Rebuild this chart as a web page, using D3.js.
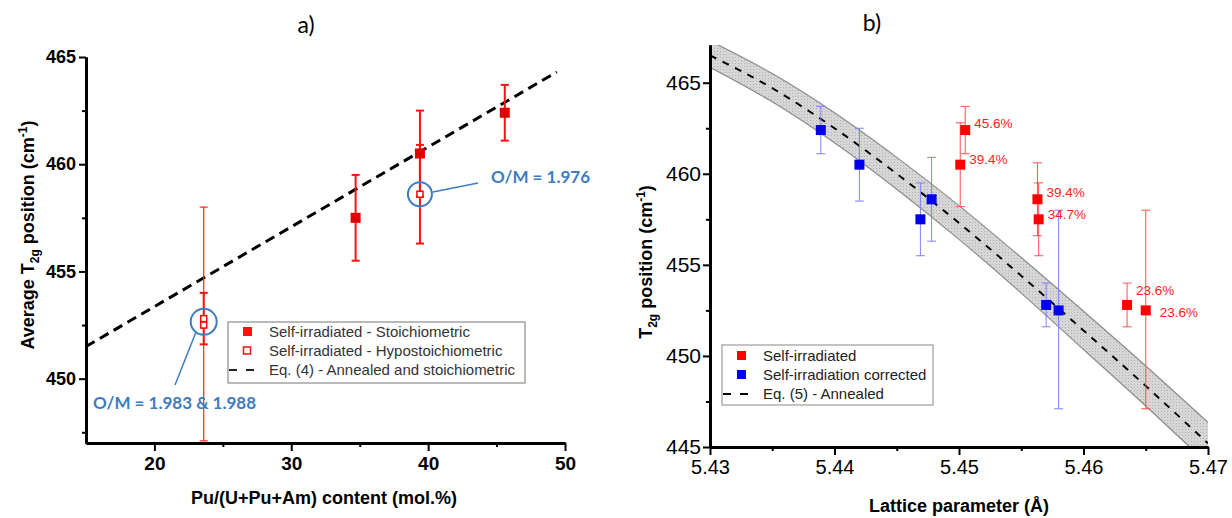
<!DOCTYPE html>
<html>
<head>
<meta charset="utf-8">
<script src="https://cdn.jsdelivr.net/npm/d3@7"></script>
<style>
  body { margin: 0; background: #fff; }
  svg { display: block; }
  .c-axis path, .c-axis line { stroke: #000; }
  .c-axis text { fill: #000; }
</style>
</head>
<body>
<div id="chart"></div>
<script>
// ---- panel a) data ----
const stoichContent = [34.7, 39.4, 45.6];
const stoichT2g = [457.5, 460.5, 462.4];
const stoichLow = [455.5, 458.5, 461.1];
const stoichHigh = [459.5, 462.5, 463.7];

const hypoContent = [23.6, 23.6, 39.4];
const hypoT2g = [452.8, 452.5, 458.6];
const hypoLow = [451.6, 447.1, 456.3];
const hypoHigh = [454.0, 458.0, 460.9];

const eq4Content = [15, 49.4];
const eq4T2g = [451.5, 464.3];

const aXTicks = [20, 30, 40, 50];
const aXMinor = [25, 35, 45];
const aYTicks = [450, 455, 460, 465];
const aYMinor = [447.5, 452.5, 457.5, 462.5];

// ---- panel b) data ----
const redLattice = [5.4505, 5.4501, 5.4563, 5.4564, 5.4635, 5.4650];
const redT2g = [462.4, 460.5, 458.6, 457.5, 452.8, 452.5];
const redLow = [461.1, 458.2, 456.6, 455.5, 451.6, 447.1];
const redHigh = [463.7, 462.8, 460.6, 459.5, 454.0, 458.0];
const redLabels = ['45.6%', '39.4%', '39.4%', '34.7%', '23.6%', '23.6%'];

const blueLattice = [5.4389, 5.4420, 5.4469, 5.4478, 5.4570, 5.4580];
const blueT2g = [462.4, 460.5, 457.5, 458.6, 452.8, 452.5];
const blueLow = [461.1, 458.5, 455.5, 456.3, 451.6, 447.1];
const blueHigh = [463.7, 462.5, 459.5, 460.9, 454.0, 458.0];

const eq5Lattice = [5.43, 5.435, 5.44, 5.445, 5.45, 5.455, 5.46, 5.465, 5.47];
const eq5T2g = [466.5, 464.7, 462.5, 460.0, 457.3, 454.4, 451.4, 448.35, 445.2];
const eq5Upper = [467.3, 465.5, 463.35, 460.9, 458.25, 455.4, 452.45, 449.45, 446.35];
const eq5Lower = [465.85, 463.95, 461.7, 459.15, 456.4, 453.45, 450.35, 447.25, 444.05];

const bXTicks = [5.43, 5.44, 5.45, 5.46, 5.47];
const bXMinor = [5.435, 5.445, 5.455, 5.465];
const bYTicks = [445, 450, 455, 460, 465];
const bYMinor = [447.5, 452.5, 457.5, 462.5];

// label offsets (px) for the red percentage labels
const redLabelOffsets = [[9, -7], [9, -5], [9, -7], [9, -5], [9, -15], [14, 2]];

const ARIAL = '"Liberation Sans", Arial, sans-serif';
const CALIBRI = 'Lato, "Open Sans", sans-serif';
const OM_BLUE = '#3d7cc2';

const svg = d3.select('#chart').append('svg')
  .attr('width', 1232)
  .attr('height', 518);
svg.append('rect').attr('width', 1232).attr('height', 518).attr('fill', '#fff');

function zip (xs, ys, lo, hi) {
  return xs.map((x, i) => ({x: x, y: ys[i], lo: lo ? lo[i] : null, hi: hi ? hi[i] : null, i: i}));
}

function errorBars (g, data, x, y, color, width, cap) {
  const e = g.append('g').attr('stroke', color).attr('stroke-width', width);
  data.forEach((d) => {
    e.append('line').attr('x1', x(d.x)).attr('x2', x(d.x)).attr('y1', y(d.lo)).attr('y2', y(d.hi));
    e.append('line').attr('x1', x(d.x) - cap / 2).attr('x2', x(d.x) + cap / 2).attr('y1', y(d.lo)).attr('y2', y(d.lo));
    e.append('line').attr('x1', x(d.x) - cap / 2).attr('x2', x(d.x) + cap / 2).attr('y1', y(d.hi)).attr('y2', y(d.hi));
  });
}

function squares (g, data, x, y, size, fill, stroke) {
  g.append('g').selectAll('rect').data(data).enter().append('rect')
    .attr('x', (d) => x(d.x) - size / 2)
    .attr('y', (d) => y(d.y) - size / 2)
    .attr('width', size)
    .attr('height', size)
    .attr('fill', fill)
    .attr('stroke', stroke || 'none')
    .attr('stroke-width', stroke ? 1.5 : 0);
}

function drawAxis (g, axis, transform, font, size, weight, lineWidth) {
  const a = g.append('g')
    .attr('class', 'c-axis')
    .attr('transform', transform)
    .call(axis);
  a.attr('font-family', font);
  a.selectAll('path').attr('stroke-width', lineWidth);
  a.selectAll('line').attr('stroke-width', 2);
  a.selectAll('text')
    .attr('font-family', font)
    .attr('font-size', size)
    .attr('font-weight', weight);
  return a;
}

// ================= panel a) =================
function drawPanelA () {
  const x = d3.scaleLinear().domain([15, 50]).range([86, 565]);
  const y = d3.scaleLinear().domain([447, 465]).range([443, 57]);
  const g = svg.append('g');

  g.append('text').attr('x', 306).attr('y', 33).attr('text-anchor', 'middle')
    .attr('font-family', CALIBRI).attr('font-size', 23).text('a)');

  drawAxis(g, d3.axisLeft(y).tickValues(aYMinor).tickSize(4).tickFormat('').tickSizeOuter(0),
    'translate(' + x(15) + ',0)', ARIAL, 18, 'bold', 3);
  drawAxis(g, d3.axisLeft(y).tickValues(aYTicks).tickSize(7).tickPadding(3).tickSizeOuter(0),
    'translate(' + x(15) + ',0)', ARIAL, 18, 'bold', 3);
  drawAxis(g, d3.axisBottom(x).tickValues(aXMinor).tickSize(4).tickFormat('').tickSizeOuter(0),
    'translate(0,' + y(447) + ')', ARIAL, 19, 'bold', 3);
  drawAxis(g, d3.axisBottom(x).tickValues(aXTicks).tickSize(8).tickPadding(6).tickSizeOuter(0),
    'translate(0,' + y(447) + ')', ARIAL, 19, 'bold', 3);

  const yl = g.append('text')
    .attr('transform', 'translate(34,' + 235 + ') rotate(-90)')
    .attr('text-anchor', 'middle')
    .attr('font-family', ARIAL).attr('font-size', 18).attr('font-weight', 'bold');
  yl.append('tspan').text('Average T');
  yl.append('tspan').attr('font-size', 12).attr('dy', 5).text('2g');
  yl.append('tspan').attr('dy', -5).text(' position (cm');
  yl.append('tspan').attr('font-size', 12).attr('dy', -7).text('-1');
  yl.append('tspan').attr('dy', 7).text(')');

  g.append('text').attr('x', 324).attr('y', 504).attr('text-anchor', 'middle')
    .attr('font-family', ARIAL).attr('font-size', 18).attr('font-weight', 'bold')
    .text('Pu/(U+Pu+Am) content (mol.%)');

  // Eq. (4) line
  const line = d3.line().x((d) => x(d.x)).y((d) => y(d.y));
  g.append('path')
    .attr('d', line(zip(eq4Content, eq4T2g)))
    .attr('fill', 'none').attr('stroke', '#000').attr('stroke-width', 3)
    .attr('stroke-dasharray', '10,6');

  const stoich = zip(stoichContent, stoichT2g, stoichLow, stoichHigh);
  const hypo = zip(hypoContent, hypoT2g, hypoLow, hypoHigh);
  errorBars(g, hypo.filter((d) => d.i === 1), x, y, '#ff2020', 1.2, 8);
  errorBars(g, hypo.filter((d) => d.i !== 1), x, y, '#ff1010', 2, 8);
  errorBars(g, stoich, x, y, '#ff1010', 2, 8);
  squares(g, stoich, x, y, 10, '#e00000');
  squares(g, hypo, x, y, 6, '#fff', '#ff0000');

  // O/M annotations
  const ann = g.append('g').attr('stroke', OM_BLUE).attr('fill', 'none').attr('stroke-width', 2);
  ann.append('circle').attr('cx', x(23.6)).attr('cy', y(452.65)).attr('r', 13);
  ann.append('circle').attr('cx', x(39.4)).attr('cy', y(458.6)).attr('r', 12);
  ann.append('line').attr('x1', 175).attr('y1', 385).attr('x2', 196).attr('y2', 332).attr('stroke-width', 1.5);
  ann.append('line').attr('x1', 433).attr('y1', 192).attr('x2', 478).attr('y2', 183).attr('stroke-width', 1.5);
  g.append('text').attr('x', 93).attr('y', 409)
    .attr('font-family', CALIBRI).attr('font-size', 17).attr('font-weight', 'bold')
    .attr('fill', OM_BLUE).text('O/M = 1.983 & 1.988');
  g.append('text').attr('x', 491).attr('y', 183)
    .attr('font-family', CALIBRI).attr('font-size', 17).attr('font-weight', 'bold')
    .attr('fill', OM_BLUE).text('O/M = 1.976');

  // legend
  const lg = g.append('g').attr('transform', 'translate(228,322)');
  lg.append('rect').attr('width', 297).attr('height', 61)
    .attr('fill', '#fff').attr('stroke', '#777').attr('stroke-width', 1);
  const rows = ['Self-irradiated - Stoichiometric', 'Self-irradiated - Hypostoichiometric', 'Eq. (4) - Annealed and stoichiometric'];
  rows.forEach((t, i) => {
    lg.append('text').attr('x', 41).attr('y', 10 + i * 19).attr('dy', '0.35em')
      .attr('font-family', ARIAL).attr('font-size', 15).attr('fill', '#333').text(t);
  });
  lg.append('rect').attr('x', 15).attr('y', 5).attr('width', 9).attr('height', 9).attr('fill', '#ff1010');
  lg.append('rect').attr('x', 15.5).attr('y', 25).attr('width', 7).attr('height', 7)
    .attr('fill', '#fff').attr('stroke', '#ff1010').attr('stroke-width', 1.5);
  lg.append('line').attr('x1', 1).attr('x2', 30).attr('y1', 48).attr('y2', 48)
    .attr('stroke', '#222').attr('stroke-width', 2).attr('stroke-dasharray', '8,9');
}

// ================= panel b) =================
function drawPanelB () {
  const x = d3.scaleLinear().domain([5.43, 5.47]).range([710, 1208]);
  const y = d3.scaleLinear().domain([445, 467.07]).range([447, 45]);
  const g = svg.append('g');

  g.append('text').attr('x', 872).attr('y', 31).attr('text-anchor', 'middle')
    .attr('font-family', CALIBRI).attr('font-size', 23).text('b)');

  g.append('clipPath').attr('id', 'clipB').append('rect')
    .attr('x', 710).attr('y', 45).attr('width', 498).attr('height', 402);

  // uncertainty band
  const band = d3.area()
    .x((d) => x(d.x))
    .y0((d) => y(d.lo))
    .y1((d) => y(d.hi))
    .curve(d3.curveMonotoneX);
  const bandData = zip(eq5Lattice, eq5T2g, eq5Lower, eq5Upper);
  const plot = g.append('g').attr('clip-path', 'url(#clipB)');
  const pat = svg.append('defs').append('pattern').attr('id', 'hatch')
    .attr('width', 3).attr('height', 3).attr('patternUnits', 'userSpaceOnUse');
  pat.append('rect').attr('width', 3).attr('height', 3).attr('fill', '#d6d6d6');
  pat.append('rect').attr('width', 1).attr('height', 1).attr('fill', '#b4b4b4');
  plot.append('path').attr('d', band(bandData)).attr('fill', 'url(#hatch)');
  const edge = d3.line().x((d) => x(d.x)).curve(d3.curveMonotoneX);
  plot.append('path').attr('d', edge.y((d) => y(d.hi))(bandData))
    .attr('fill', 'none').attr('stroke', '#8c8c8c').attr('stroke-width', 1.2);
  plot.append('path').attr('d', edge.y((d) => y(d.lo))(bandData))
    .attr('fill', 'none').attr('stroke', '#8c8c8c').attr('stroke-width', 1.2);
  plot.append('path')
    .attr('d', d3.line().x((d) => x(d.x)).y((d) => y(d.y)).curve(d3.curveMonotoneX)(bandData))
    .attr('fill', 'none').attr('stroke', '#000').attr('stroke-width', 2)
    .attr('stroke-dasharray', '7,7');

  drawAxis(g, d3.axisLeft(y).tickValues(bYMinor).tickSize(4).tickFormat('').tickSizeOuter(0),
    'translate(' + x(5.43) + ',0)', ARIAL, 21, 'normal', 3);
  drawAxis(g, d3.axisLeft(y).tickValues(bYTicks).tickSize(7).tickPadding(2).tickSizeOuter(0),
    'translate(' + x(5.43) + ',0)', ARIAL, 21, 'normal', 3);
  drawAxis(g, d3.axisBottom(x).tickValues(bXMinor).tickSize(4).tickFormat('').tickSizeOuter(0),
    'translate(0,' + y(445) + ')', ARIAL, 20, 'normal', 3);
  drawAxis(g, d3.axisBottom(x).tickValues(bXTicks).tickSize(8).tickPadding(5)
    .tickFormat(d3.format('.2f')).tickSizeOuter(0),
    'translate(0,' + y(445) + ')', ARIAL, 20, 'normal', 3);

  const yl = g.append('text')
    .attr('transform', 'translate(652,' + 262 + ') rotate(-90)')
    .attr('text-anchor', 'middle')
    .attr('font-family', ARIAL).attr('font-size', 18).attr('font-weight', 'bold');
  yl.append('tspan').text('T');
  yl.append('tspan').attr('font-size', 12).attr('dy', 5).text('2g');
  yl.append('tspan').attr('dy', -5).text(' position (cm');
  yl.append('tspan').attr('font-size', 12).attr('dy', -7).text('-1');
  yl.append('tspan').attr('dy', 7).text(')');

  g.append('text').attr('x', 959).attr('y', 512).attr('text-anchor', 'middle')
    .attr('font-family', ARIAL).attr('font-size', 18).attr('font-weight', 'bold')
    .text('Lattice parameter (Å)');

  const red = zip(redLattice, redT2g, redLow, redHigh);
  const blue = zip(blueLattice, blueT2g, blueLow, blueHigh);
  errorBars(g, blue, x, y, '#8080ff', 1, 9);
  errorBars(g, red, x, y, '#ff5050', 1, 9);
  squares(g, blue, x, y, 10, '#0000ee');
  squares(g, red, x, y, 10, '#ff0000');

  g.append('g').selectAll('text').data(red).enter().append('text')
    .attr('x', (d) => x(d.x) + redLabelOffsets[d.i][0])
    .attr('y', (d) => y(d.y) + redLabelOffsets[d.i][1])
    .attr('dy', '0.35em')
    .attr('font-family', ARIAL).attr('font-size', 13.5).attr('fill', '#ff2020')
    .text((d) => redLabels[d.i]);

  // legend
  const lg = g.append('g').attr('transform', 'translate(722,345)');
  lg.append('rect').attr('width', 211).attr('height', 60)
    .attr('fill', '#fff').attr('stroke', '#888').attr('stroke-width', 1);
  const rows = ['Self-irradiated', 'Self-irradiation corrected', 'Eq. (5) - Annealed'];
  rows.forEach((t, i) => {
    lg.append('text').attr('x', 41).attr('y', 11 + i * 19).attr('dy', '0.35em')
      .attr('font-family', ARIAL).attr('font-size', 15).attr('fill', '#222').text(t);
  });
  lg.append('rect').attr('x', 15).attr('y', 6).attr('width', 9).attr('height', 9).attr('fill', '#ff0000');
  lg.append('rect').attr('x', 15).attr('y', 25).attr('width', 9).attr('height', 9).attr('fill', '#0000ee');
  lg.append('line').attr('x1', 1).attr('x2', 30).attr('y1', 49).attr('y2', 49)
    .attr('stroke', '#000').attr('stroke-width', 2).attr('stroke-dasharray', '8,9');
}

drawPanelA();
drawPanelB();
</script>
</body>
</html>
